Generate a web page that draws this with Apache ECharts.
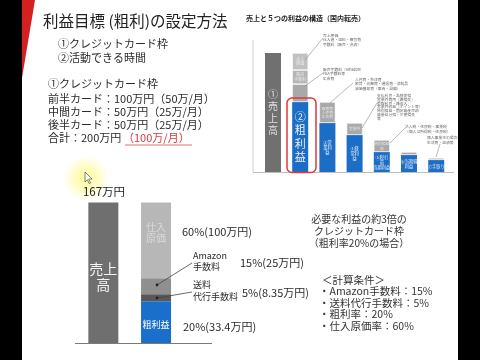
<!DOCTYPE html>
<html><head><meta charset="utf-8">
<script src="https://cdn.jsdelivr.net/npm/echarts@6/dist/echarts.min.js"></script>
<style>html,body{margin:0;padding:0;background:#fff}#c{width:480px;height:360px}</style>
</head><body><div id="c"></div>
<script>
const FONT = '"Noto Sans CJK JP","Noto Sans",sans-serif';

// ---- bottom-left breakdown chart (heights, 万円 scale) ----
const breakdownCats = ['売上高', '内訳'];
const salesValue = [167, null];
const grossProfitValue = [null, 49.7];
const shippingFeeValue = [null, 8.3];
const amazonFeeValue = [null, 19];
const purchaseCostValue = [null, 90];
const salesTotalLabel = '167万円';
const pctLabels = ['60%(100万円)', '15%(25万円)', '5%(8.35万円)', '20%(33.4万円)'];

// ---- top-right structure chart (sales = 100) ----
const structCats = ['売上高', '粗利益', '営業利益', '経常利益', '税引前利益', '当期純利益', '手取り'];
const structSales = [100, null, null, null, null, null, null];
const structProfit = [null, 58.8, 41.2, 31.1, 16.8, 14.3, 10.1];
const structCostA = [null, 15.1, 17.6, 10.1, 10.1, 2.5, 1.7];
const structCostB = [null, 11.8, null, null, null, null, null];
const structCostC = [null, 14.3, null, null, null, null, null];
const structProfitLabels = ['', '②\n粗\n利\n益', '③営\n業利\n益', '④経\n常利\n益', '⑤税引\n前\n当期利益', '⑥当期純\n利益', '⑦手取り'];
const structCostLabels = ['', '', '販管費\n人件費\n広告費', '営業外', '特別損益\n他', '', ''];

const chart = echarts.init(document.getElementById('c'), null, {renderer: 'canvas'});

function t(text, x, y, size, opts) {
  opts = opts || {};
  return {type: 'text', z: 50, style: Object.assign({
    text: text, x: x, y: y, font: (opts.weight || 'normal') + ' ' + size + 'px ' + FONT,
    fill: opts.fill || '#2a2a2a', textAlign: opts.align || 'left', textVerticalAlign: 'middle',
    lineHeight: opts.lh || size * 1.2
  }, opts.style || {})};
}
function ln(x1, y1, x2, y2, color, w) {
  return {type: 'line', z: 40, shape: {x1, y1, x2, y2}, style: {stroke: color, lineWidth: w || 1}};
}
function dot(x, y) { return {type: 'circle', z: 41, shape: {cx: x, cy: y, r: 1.4}, style: {fill: '#222'}}; }

const bigLines = s => s.split('\n').map(l => '{big|' + l + '}').join('\n');
const smallLines = s => s.split('\n').map(l => '{sm|' + l + '}').join('\n');

const graphics = [
  // pillarbox + corner decoration
  {type: 'rect', z: 60, shape: {x: 0, y: 0, width: 22, height: 360}, style: {fill: '#000'}},
  {type: 'rect', z: 60, shape: {x: 458, y: 0, width: 22, height: 360}, style: {fill: '#000'}},
  {type: 'polygon', z: 61, shape: {points: [[22, 0], [35, 0], [22, 78]]}, style: {fill: '#d42020'}},
  // title & left texts
  t('利益目標 (粗利)の設定方法', 43, 21, 15.5, {fill: '#222'}),
  t('①クレジットカード枠', 58, 44, 11),
  t('②活動できる時間', 58, 58, 11),
  t('①クレジットカード枠', 48, 84, 11),
  t('前半カード：100万円（50万/月）', 48, 98.5, 11),
  t('中間カード：50万円（25万/月）', 48, 111.5, 11),
  t('後半カード：50万円（25万/月）', 48, 124.5, 11),
  t('合計：200万円', 48, 137.5, 11),
  t('（100万/月）', 123, 137.5, 11, {fill: '#d83a3a'}),
  ln(125, 145, 192, 145, '#e07070', 1),
  // top-right chart frame and title
  t('売上と５つの利益の構造（国内転売）', 246, 18, 7, {weight: 'bold', fill: '#222'}),
  ln(253, 40, 253, 172.5, '#cfcfcf', 1),
  ln(253, 172.5, 454, 172.5, '#bdbdbd', 1),
  {type: 'rect', z: 45, shape: {x: 287, y: 98, width: 29, height: 74.5, r: 5}, style: {fill: 'none', stroke: '#e0383b', lineWidth: 1.5}},
  // tiny annotations top-right
  t('売上原価\n仕入値・送料・梱包費\n手数料（販売・決済）', 323, 40, 3.8, {fill: '#666', lh: 4.6}),
  ln(305, 60, 323, 38, '#888', 0.6),
  t('販売手数料（Amazon）\nFBA手数料等\n広告費', 323, 74, 3.8, {fill: '#666', lh: 4.6}),
  ln(305, 86, 323, 73, '#888', 0.6),
  t('人件費・外注費\n家賃・光熱費・通信費・消耗品\n減価償却費（車両・設備）', 355, 84, 3.8, {fill: '#666', lh: 4.6}),
  ln(330, 103, 353, 83, '#888', 0.6),
  t('支払利息・為替差損\n営業外費用（雑損失）\n受取利息・雑収入\n営業外収益（ポイント等）\n特別損益・固定資産売却\n資産処分損・災害損失\n等', 377, 107, 3.8, {fill: '#666', lh: 3.8}),
  ln(362, 128, 377, 103, '#888', 0.6),
  t('法人税・住民税・事業税\n（個人は所得税・住民税）', 405, 129, 3.8, {fill: '#666', lh: 4.6}),
  ln(390, 143, 405, 128, '#888', 0.6),
  t('個人事業主の場合の\n生活費・返済等', 427, 140, 3.8, {fill: '#666', lh: 4.6}),
  ln(436, 157, 440, 144, '#888', 0.6),
  // bottom chart baseline and notes
  ln(75, 343.5, 212, 343.5, '#7a7a7a', 1),
  t(salesTotalLabel, 104, 192, 11.5, {align: 'center', fill: '#222'}),
  t(pctLabels[0], 182, 232, 11),
  t('Amazon\n手数料', 193, 261.5, 9, {lh: 11}),
  t(pctLabels[1], 240, 263, 11),
  t('送料\n代行手数料', 193, 291, 9, {lh: 12}),
  t(pctLabels[2], 242, 293, 11),
  t(pctLabels[3], 183, 327, 11),
  ln(157, 285, 192, 263, '#444', 0.8), dot(157, 285),
  ln(157, 298, 192, 292, '#444', 0.8), dot(157, 298),
  // right notes
  t('必要な利益の約3倍の\nクレジットカード枠\n（粗利率20%の場合）', 359, 231.5, 10, {align: 'center', lh: 11.8, fill: '#333'}),
  t('＜計算条件＞', 322, 280, 10.5, {fill: '#333'}),
  t('・Amazon手数料：15%', 319, 291.5, 10.5, {fill: '#333'}),
  t('・送料代行手数料：5%', 319, 303, 10.5, {fill: '#333'}),
  t('・粗利率：20%', 319, 314.5, 10.5, {fill: '#333'}),
  t('・仕入原価率：60%', 319, 326, 10.5, {fill: '#333'}),
  // cursor highlight
  {type: 'circle', z: 30, shape: {cx: 86, cy: 178, r: 24}, style: {fill: new echarts.graphic.RadialGradient(0.5, 0.5, 0.5, [
    {offset: 0, color: 'rgba(255,250,130,0.85)'}, {offset: 0.6, color: 'rgba(255,250,150,0.45)'}, {offset: 1, color: 'rgba(255,255,200,0)'}])}},
  {type: 'polygon', z: 55, shape: {points: [[85, 172], [85, 182], [87.3, 179.7], [89.2, 183.6], [90.6, 183], [88.7, 179.2], [92, 179]]}, style: {fill: '#fff', stroke: '#333', lineWidth: 0.6}}
];

const bottomBar = (name, data, color, label) => ({
  name, type: 'bar', xAxisIndex: 0, yAxisIndex: 0, stack: 'b', data, barWidth: 30,
  itemStyle: {color}, label: label || {show: false}, emphasis: {disabled: true}
});
const topBar = (name, data, color, label, border) => ({
  name, type: 'bar', xAxisIndex: 1, yAxisIndex: 1, stack: 's', data, barWidth: 16,
  itemStyle: {color, borderColor: border ? '#fff' : undefined, borderWidth: border ? 0.6 : 0},
  label: label || {show: false}, emphasis: {disabled: true}
});

chart.setOption({
  animation: false,
  backgroundColor: '#ffffff',
  textStyle: {fontFamily: FONT},
  grid: [
    {left: 77, top: 202.5, width: 105.4, height: 140.5},
    {left: 259.4, top: 53, width: 190.4, height: 119}
  ],
  xAxis: [
    {type: 'category', gridIndex: 0, data: breakdownCats, show: false},
    {type: 'category', gridIndex: 1, data: structCats, show: false}
  ],
  yAxis: [
    {type: 'value', gridIndex: 0, min: 0, max: 167, show: false},
    {type: 'value', gridIndex: 1, min: 0, max: 100, show: false}
  ],
  series: [
    bottomBar('売上高', salesValue, '#6f6f6f', {show: true, position: 'inside', formatter: '売上\n高',
      fontSize: 14, lineHeight: 16, color: '#f4f4f4', offset: [0, 4], fontFamily: FONT}),
    bottomBar('粗利益', grossProfitValue, '#1a6fca', {show: true, position: 'inside', formatter: '粗利益',
      fontSize: 9, color: '#ffffff', offset: [0, 2], fontFamily: FONT}),
    bottomBar('送料代行手数料', shippingFeeValue, '#585858'),
    bottomBar('Amazon手数料', amazonFeeValue, '#8f8f8f'),
    bottomBar('仕入原価', purchaseCostValue, '#b7b7b7', {show: true, position: 'inside', formatter: '仕入\n原価',
      fontSize: 10, lineHeight: 11, color: '#d9d9d9', offset: [0, -8], fontFamily: FONT}),

    topBar('売上高', structSales, '#707070', {show: true, position: 'inside', formatter: '①\n売\n上\n高',
      fontSize: 10, lineHeight: 12, color: '#e0e0e0', fontFamily: FONT}),
    topBar('利益', structProfit, '#1b6dc6', {show: true, position: 'inside', fontFamily: FONT,
      formatter: p => p.dataIndex === 1 ? bigLines(structProfitLabels[1]) : smallLines(structProfitLabels[p.dataIndex]),
      rich: {big: {fontSize: 11, lineHeight: 13.5, color: '#f0f0f0', fontFamily: FONT},
             sm: {fontSize: 4.2, lineHeight: 5, color: '#e8eef8', fontFamily: FONT}}}),
    topBar('費用A', structCostA, '#a9a9a9', {show: true, position: 'inside', fontFamily: FONT,
      formatter: p => smallLines(structCostLabels[p.dataIndex] || ' '),
      rich: {sm: {fontSize: 3.8, lineHeight: 4.4, color: '#e6e6e6', fontFamily: FONT}}}, true),
    topBar('費用B', structCostB, '#b5b5b5', {show: true, position: 'inside', formatter: '販売\n手数料',
      fontSize: 4, lineHeight: 4.8, color: '#e8e8e8', fontFamily: FONT}, true),
    topBar('費用C', structCostC, '#c1c1c1', {show: true, position: 'inside', formatter: '売上\n原価',
      fontSize: 4, lineHeight: 4.8, color: '#ececec', fontFamily: FONT}, true)
  ],
  graphic: graphics
});
</script></body></html>
